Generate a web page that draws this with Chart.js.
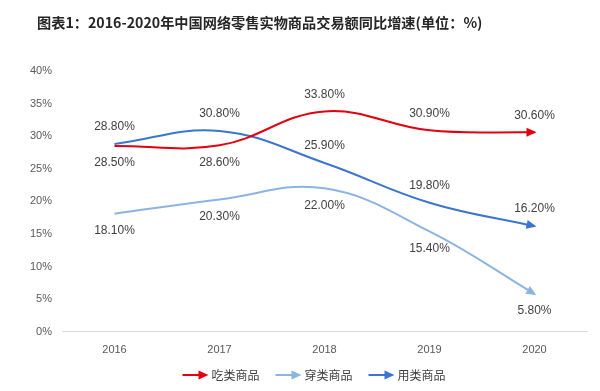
<!DOCTYPE html>
<html><head><meta charset="utf-8">
<script src="https://cdn.jsdelivr.net/npm/chart.js@4/dist/chart.umd.min.js"></script>
<style>html,body{margin:0;padding:0;background:#fff}#wrap{width:600px;height:391px}</style>
</head><body><div id="wrap"><canvas id="c" width="600" height="391"></canvas></div>
<script>
const years = ['2016','2017','2018','2019','2020'];
const eatValues = [28.5, 28.6, 33.8, 30.9, 30.6];
const wearValues = [18.1, 20.3, 22.0, 15.4, 5.8];
const useValues = [28.8, 30.8, 25.9, 19.8, 16.2];
const seriesNames = ['吃类商品', '穿类商品', '用类商品'];
const yTicks = [0, 5, 10, 15, 20, 25, 30, 35, 40];
const titleText = '图表1：2016-2020年中国网络零售实物商品交易额同比增速(单位：%)';

const colors = ['#e3000f', '#8db3e2', '#3a75cf'];
// label placement per dataset per point: -1 above, +1 below
const labelSide = [[1,1,-1,-1,-1],[1,1,1,1,1],[-1,-1,-1,-1,-1]];

function drawArrow(ctx, x, y, ang, color){
  ctx.save();
  ctx.translate(x, y);
  ctx.rotate(ang);
  ctx.fillStyle = color;
  ctx.beginPath();
  ctx.moveTo(2, 0); ctx.lineTo(-8, -4.5); ctx.lineTo(-8, 4.5); ctx.closePath();
  ctx.fill();
  ctx.restore();
}

const titlePlugin = {
  id:'titleText',
  beforeDraw(chart){
    const ctx = chart.ctx;
    ctx.save();
    ctx.font = 'bold 14.2px "Noto Sans CJK SC", sans-serif';
    ctx.fillStyle = '#262626';
    ctx.textBaseline = 'middle';
    ctx.textAlign = 'left';
    ctx.fillText(titleText, 37, 23);
    ctx.restore();
  }
};

const legendPlugin = {
  id:'arrowLegend',
  afterDraw(chart){
    const ctx = chart.ctx;
    ctx.save();
    ctx.font = '12px "Noto Sans CJK SC", sans-serif';
    ctx.textBaseline = 'middle';
    ctx.textAlign = 'left';
    const sym = 26, gapT = 3, gapI = 16, y = 375;
    const ds = chart.data.datasets;
    const widths = ds.map(d => sym + gapT + ctx.measureText(d.label).width);
    const total = widths.reduce((a, b) => a + b, 0) + gapI * (ds.length - 1);
    let x = (chart.width - total) / 2 + 14;
    ds.forEach((d, i) => {
      ctx.strokeStyle = d.borderColor; ctx.lineWidth = 2;
      ctx.beginPath(); ctx.moveTo(x, y); ctx.lineTo(x + sym - 6, y); ctx.stroke();
      drawArrow(ctx, x + sym - 2, y, 0, d.borderColor);
      ctx.fillStyle = '#404040';
      ctx.fillText(d.label, x + sym + gapT, y);
      x += widths[i] + gapI;
    });
    ctx.restore();
  }
};

const labelPlugin = {
  id:'labelsArrows',
  afterDatasetsDraw(chart){
    const ctx = chart.ctx;
    ctx.save();
    chart.data.datasets.forEach((ds, di) => {
      const meta = chart.getDatasetMeta(di);
      const pts = meta.data;
      const last = pts[pts.length-1];
      let fx = last.cp1x !== undefined ? last.cp1x : pts[pts.length-2].x;
      let fy = last.cp1y !== undefined ? last.cp1y : pts[pts.length-2].y;
      if (Math.hypot(last.x-fx, last.y-fy) < 1) { fx = pts[pts.length-2].x; fy = pts[pts.length-2].y; }
      drawArrow(ctx, last.x, last.y, Math.atan2(last.y - fy, last.x - fx), ds.borderColor);
      ctx.font = '12px "Liberation Sans", "Noto Sans CJK SC", sans-serif';
      ctx.fillStyle = '#404040';
      ctx.textAlign = 'center';
      ctx.textBaseline = 'middle';
      pts.forEach((p, i) => {
        const side = labelSide[di][i];
        const v = ds.data[i];
        ctx.fillText(v.toFixed(2) + '%', p.x, p.y + side * 17);
      });
    });
    ctx.restore();
  }
};

const mk = (name, data, color, order) => ({
  label: name, data, borderColor: color, backgroundColor: color,
  borderWidth: 2, pointRadius: 0, pointHoverRadius: 0, tension: 0.4,
  cubicInterpolationMode: 'default', fill: false, order
});

new Chart(document.getElementById('c'), {
  type: 'line',
  data: {
    labels: years,
    datasets: [
      mk(seriesNames[0], eatValues, colors[0], 1),
      mk(seriesNames[1], wearValues, colors[1], 3),
      mk(seriesNames[2], useValues, colors[2], 2)
    ]
  },
  options: {
    responsive: false,
    animation: false,
    devicePixelRatio: 1,
    layout: { padding: { top: 71, right: 13, bottom: 22, left: 0 } },
    scales: {
      x: {
        offset: true,
        grid: { display: false, drawTicks: false },
        border: { color: '#d9d9d9', width: 1 },
        ticks: { color: '#595959', font: { size: 11, family: '"Liberation Sans", sans-serif' }, padding: 12 }
      },
      y: {
        min: 0, max: 40,
        afterBuildTicks(scale){ scale.ticks = yTicks.map(v => ({ value: v })); },
        afterFit(scale){ scale.width = 62; },
        grid: { display: false, drawTicks: false },
        border: { display: false },
        ticks: { color: '#595959', font: { size: 11, family: '"Liberation Sans", sans-serif' }, padding: 10,
          callback: v => v + '%' }
      }
    },
    plugins: {
      title: { display: false },
      tooltip: { enabled: false },
      legend: { display: false }
    }
  },
  plugins: [titlePlugin, labelPlugin, legendPlugin]
});
</script>
</body></html>
